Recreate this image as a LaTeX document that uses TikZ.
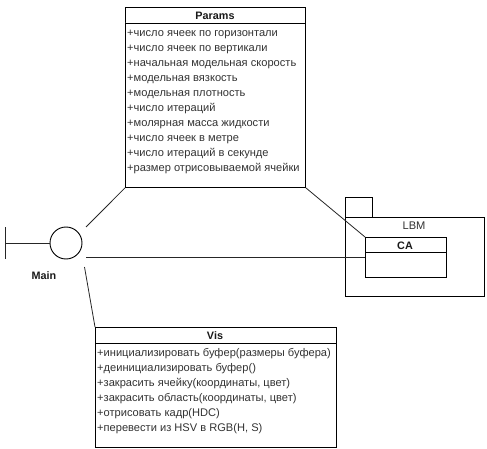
\documentclass[tikz,border=0pt]{standalone}
\usepackage{fontspec}
\setmainfont{Liberation Sans}
\tikzset{
  x=1pt,y=-1pt,
  boxline/.style={draw=black,line width=0.9pt,fill=white},
  conn/.style={draw=black!85,line width=0.8pt},
  item/.style={anchor=west,inner sep=0pt,font=\fontsize{11.1}{12}\selectfont,text=black!80},
  head/.style={inner sep=0pt,font=\fontsize{10.8}{12}\selectfont\bfseries,text=black!90},
  pt/.style={inner sep=0pt,minimum size=0pt}
}
\begin{document}
\begin{tikzpicture}
\useasboundingbox (0,0) rectangle (487,449);
% Package LBM
\draw[boxline] (345,197) rectangle (372,217);
\node[pt,draw=black,line width=0.9pt,fill=white,minimum width=139pt,minimum height=79pt,anchor=north west] (lbm) at (345,217) {};
\node[inner sep=0pt,font=\fontsize{11.1}{12}\selectfont,text=black!80] (lbmt) at (414,226) {LBM};
% Class CA
\node[pt,draw=black,line width=0.9pt,fill=white,minimum width=81pt,minimum height=40pt,anchor=north west] (ca) at (365,237) {};
\draw[boxline] (365,252) -- (446,252);
\node[head] (cat) at (405,245.5) {CA};
% Class Params
\node[pt,draw=black,line width=0.9pt,fill=white,minimum width=180pt,minimum height=180pt,anchor=north west] (params) at (125,7) {};
\draw[boxline] (125,23) -- (305,23);
\node[head] (paramst) at (215,16) {Params};
\foreach \n/\t [count=\i from 0] in {
 a/{+число ячеек по горизонтали},
 b/{+число ячеек по вертикали},
 c/{+начальная модельная скорость},
 d/{+модельная вязкость},
 e/{+модельная плотность},
 f/{+число итераций},
 g/{+молярная масса жидкости},
 h/{+число ячеек в метре},
 i/{+число итераций в секунде},
 j/{+размер отрисовываемой ячейки}}
 \node[item] (p\n) at (127,{34+15*\i}) {\t};
% Class Vis
\node[pt,draw=black,line width=0.9pt,fill=white,minimum width=241pt,minimum height=120pt,anchor=north west] (vis) at (95,327) {};
\draw[boxline] (95,343) -- (336,343);
\node[head] (vist) at (215,336) {Vis};
\foreach \n/\t [count=\i from 0] in {
 a/{+инициализировать буфер(размеры буфера)},
 b/{+деинициализировать буфер()},
 c/{+закрасить ячейку(координаты, цвет)},
 d/{+закрасить область(координаты, цвет)},
 e/{+отрисовать кадр(HDC)},
 f/{+перевести из HSV в RGB(H, S)}}
 \node[item] (v\n) at (97,{354+15*\i}) {\t};
% Interface Main
\node[pt,circle,draw=black,line width=0.9pt,minimum size=32pt] (main) at (66,243) {};
\node[head] (maint) at (44,275.5) {Main};
\coordinate (tt) at (5,227);
\coordinate (tb) at (5,259);
\coordinate (tm) at (5,243);
\draw[conn] (tt) -- (tb);
\draw[conn] (tm) -- (main.west);
% Connectors (free ends near the circle)
\coordinate (c1) at (86,227);
\coordinate (c2) at (86,257);
\coordinate (c3) at (84.5,267);
\draw[conn] (c1) -- (params.south west);
\draw[conn] (params.south east) -- (ca.north west);
\draw[conn] (c2) -- (c2 -| ca.west);
\draw[conn] (c3) -- (vis.north west);
\end{tikzpicture}
\end{document}
